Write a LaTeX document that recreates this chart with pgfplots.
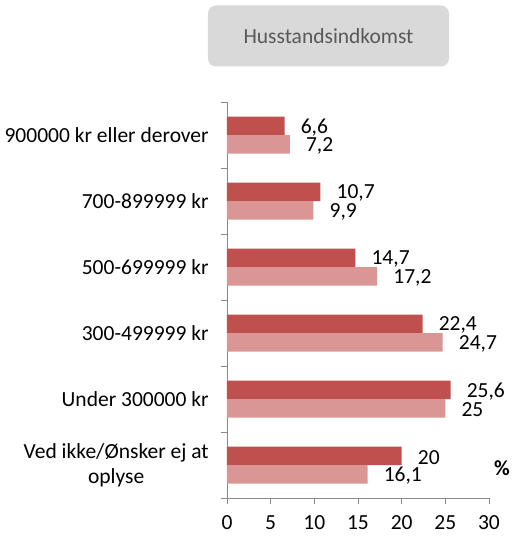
\documentclass[border=0pt]{standalone}
\usepackage{pgfplots}
\pgfplotsset{compat=1.18}
\usepackage{fontspec}
\setmainfont{Carlito}
\definecolor{darkred}{HTML}{C0504D}
\definecolor{lightred}{HTML}{D99694}
\definecolor{axgray}{HTML}{898989}
\definecolor{boxgray}{HTML}{D9D9D9}
\definecolor{txtgray}{HTML}{595959}
\newcommand{\fs}{\fontsize{21.5}{25}\selectfont}
\begin{document}
\begin{tikzpicture}
\fs
\path[use as bounding box] (-227pt,-38pt) rectangle (289pt,498pt);
\begin{axis}[
  at={(0pt,0pt)}, anchor=south west,
  scale only axis, width=262pt, height=396pt,
  xbar, bar width=18.5pt,
  y dir=reverse,
  xmin=0, xmax=30, ymin=-0.5, ymax=5.5,
  axis x line*=bottom, axis y line*=left,
  axis line style={axgray, line width=0.8pt},
  xtick={0,5,...,30},
  ytick={0,...,5},
  yticklabels={900000 kr eller derover,700-899999 kr,500-699999 kr,300-499999 kr,Under 300000 kr,{Ved ikke/Ønsker ej at\\oplyse}},
  yticklabel style={align=center, font=\fs, xshift=-5pt},
  xticklabel style={font=\fs, yshift=-4pt},
  /pgf/number format/assume math mode=true,
  major y tick style={draw=none},
  minor ytick={-0.5,0.5,...,5.5},
  minor y tick style={axgray, line width=0.8pt},
  minor tick length=6pt,
  major x tick style={axgray, line width=0.8pt},
  major tick length=6pt,
  tick align=outside,
  nodes near coords,
  nodes near coords style={font=\fs, anchor=west, inner sep=0pt, xshift=16pt, yshift=-1.5pt, /pgf/number format/use comma, /pgf/number format/fixed},
  clip=false,
]
\addplot[fill=darkred, draw=none, bar shift=9.25pt] coordinates {(6.6,0) (10.7,1) (14.7,2) (22.4,3) (25.6,4) (20,5)};
\addplot[fill=lightred, draw=none, bar shift=-9.25pt] coordinates {(7.2,0) (9.9,1) (17.2,2) (24.7,3) (25,4) (16.1,5)};
\end{axis}
\node[fill=boxgray, rounded corners=8pt, minimum width=241pt, minimum height=61pt, text=txtgray, font=\fs] at (101.5pt,462pt) {Husstandsindkomst};
\node[font=\fs\bfseries] at (275pt,30pt) {\%};
\end{tikzpicture}
\end{document}
